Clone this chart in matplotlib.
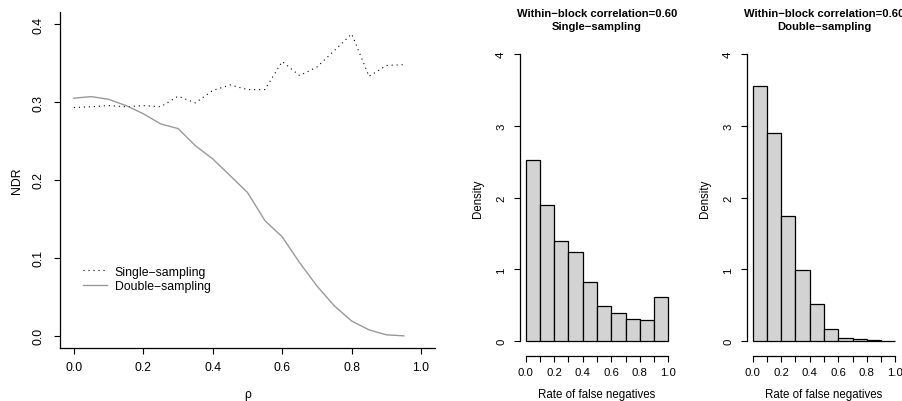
import numpy as np
import matplotlib
matplotlib.use('Agg')
import matplotlib.pyplot as plt

plt.rcParams['font.family'] = ['Liberation Sans', 'DejaVu Sans']

# left panel: NDR vs rho
rho = [0.0, 0.05, 0.1, 0.15, 0.2, 0.25, 0.3, 0.35, 0.4, 0.45,
       0.5, 0.55, 0.6, 0.65, 0.7, 0.75, 0.8, 0.85, 0.9, 0.95]
ndr_single = [0.293, 0.294, 0.2955, 0.294, 0.2955, 0.294, 0.3075, 0.299, 0.315, 0.322,
              0.316, 0.316, 0.352, 0.334, 0.345, 0.366, 0.3875, 0.333, 0.347, 0.348]
ndr_double = [0.305, 0.307, 0.3036, 0.2955, 0.285, 0.272, 0.266, 0.244, 0.227, 0.2056,
              0.184, 0.148, 0.127, 0.094, 0.064, 0.0385, 0.019, 0.0077, 0.0013, 0.0]

# histograms of false negative rate (density per bin)
bin_left = [0.0, 0.1, 0.2, 0.3, 0.4, 0.5, 0.6, 0.7, 0.8, 0.9]
dens_single = [2.53, 1.90, 1.40, 1.25, 0.82, 0.49, 0.39, 0.31, 0.29, 0.62]
dens_double = [3.56, 2.90, 1.75, 0.99, 0.52, 0.17, 0.05, 0.03, 0.02, 0.01]

W, H = 903, 402
fig = plt.figure(figsize=(W / 100, H / 100), dpi=100)


def px_axes(x0, x1, ytop, ybot):
    return fig.add_axes([x0 / W, 1 - ybot / H, (x1 - x0) / W, (ybot - ytop) / H])


# ---- left panel
ax = px_axes(60, 435, 12.7, 349.3)
ax.plot(rho, ndr_single, color='black', lw=0.8, linestyle=(0, (1, 3.5)), label='Single\u2212sampling')
ax.plot(rho, ndr_double, color='#9a9a9a', lw=1.0, label='Double\u2212sampling')
ax.set_xlim(-0.04, 1.04)
ax.set_ylim(-0.016, 0.416)
ax.set_xticks([0.0, 0.2, 0.4, 0.6, 0.8, 1.0])
ax.set_xticklabels(['0.0', '0.2', '0.4', '0.6', '0.8', '1.0'])
ax.set_yticks([0.0, 0.1, 0.2, 0.3, 0.4])
ax.set_yticklabels(['0.0', '0.1', '0.2', '0.3', '0.4'], rotation=90, va='center')
ax.spines['top'].set_visible(False)
ax.spines['right'].set_visible(False)
for s in ['left', 'bottom']:
    ax.spines[s].set_linewidth(0.9)
ax.tick_params(length=4, width=0.8, labelsize=8.8, pad=5)
ax.tick_params(axis='y', pad=7)
ax.set_xlabel('\u03c1', fontsize=8.8)
ax.xaxis.set_label_coords(0.5, -0.136)
ax.xaxis.label.set_va('center')
ax.set_ylabel('NDR', fontsize=8.8)
ax.yaxis.set_label_coords(-0.115, 0.5)
ax.yaxis.label.set_va('center')
ax.legend(loc='center left', bbox_to_anchor=(0.061, 0.206), frameon=False, fontsize=8.8,
          handlelength=2.0, handletextpad=0.6, labelspacing=0.2, borderpad=0, borderaxespad=0)


# ---- histogram panels
def hist_panel(x0, dens, subtitle):
    a = px_axes(x0, x0 + 154, 43.5, 353.8)
    a.bar(bin_left, dens, width=0.1, align='edge', color='#d3d3d3', edgecolor='black', linewidth=0.9)
    a.set_xlim(-0.04, 1.04)
    a.set_ylim(-0.16, 4.16)
    a.set_xticks([0.0, 0.1, 0.2, 0.3, 0.4, 0.5, 0.6, 0.7, 0.8, 0.9, 1.0])
    a.set_xticklabels(['0.0', '', '0.2', '', '0.4', '', '0.6', '', '0.8', '', '1.0'])
    a.set_yticks([0, 1, 2, 3, 4])
    a.set_yticklabels(['0', '1', '2', '3', '4'], rotation=90, va='center')
    a.spines['top'].set_visible(False)
    a.spines['right'].set_visible(False)
    a.spines['left'].set_bounds(0, 4)
    a.spines['bottom'].set_bounds(0, 1)
    a.spines['bottom'].set_position(('outward', 2))
    for s in ['left', 'bottom']:
        a.spines[s].set_linewidth(0.9)
    a.tick_params(length=4, width=0.8, labelsize=8.2, pad=4)
    a.tick_params(axis='y', pad=6)
    a.set_xlabel('Rate of false negatives', fontsize=8.3)
    a.xaxis.set_label_coords(0.5, -0.133)
    a.xaxis.label.set_va('center')
    a.set_ylabel('Density', fontsize=8.3)
    a.yaxis.set_label_coords(-0.273, 0.5)
    a.yaxis.label.set_va('center')
    fig.text((x0 + 77) / W, 1 - 9 / H, 'Within\u2212block correlation=0.60\n' + subtitle,
             ha='center', va='top', fontsize=8.1, fontweight='bold', linespacing=1.35)
    return a


hist_panel(520, dens_single, 'Single\u2212sampling')
hist_panel(747, dens_double, 'Double\u2212sampling')

fig.savefig('out.png', dpi=100)
